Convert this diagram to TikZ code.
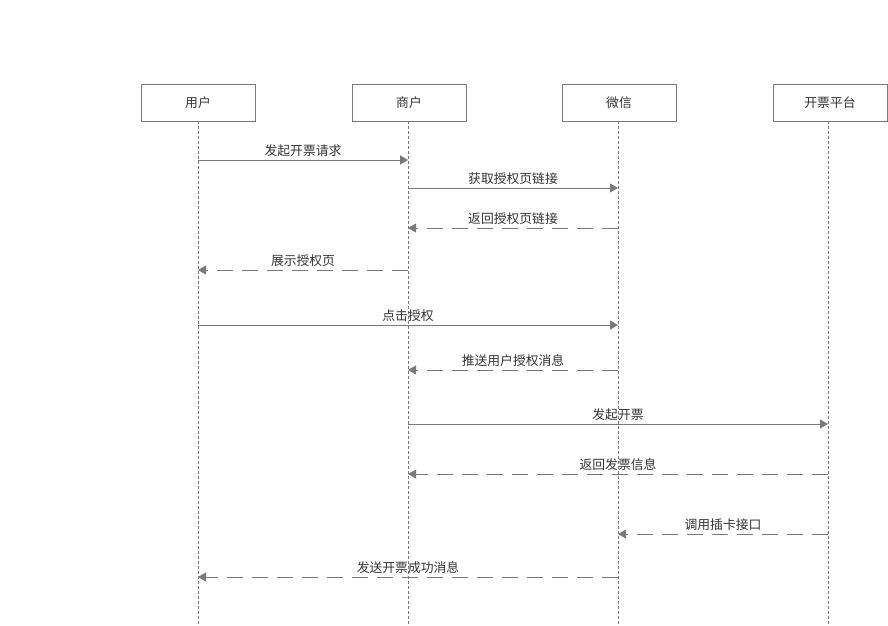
\documentclass[tikz,border=0pt]{standalone}
\usepackage{fontspec}
\setmainfont{Noto Sans CJK SC}
\usetikzlibrary{arrows.meta}
\definecolor{lc}{HTML}{7A7A7A}
\definecolor{tc}{HTML}{333333}
\tikzset{
  actor/.style={draw=lc, line width=0.8pt, minimum width=114pt, minimum height=37pt, inner sep=0pt, font=\fontsize{12.8}{14}\selectfont, text=tc},
  life/.style={draw=lc, line width=0.6pt, dash pattern=on 3pt off 2pt},
  msg/.style={draw=lc, line width=1pt, -{Triangle[length=8pt,width=9pt]}},
  ret/.style={msg, dash pattern=on 16pt off 9pt},
  lbl/.style={inner sep=1pt, anchor=center, yshift=9.5pt, font=\fontsize{12.8}{14}\selectfont, text=tc}
}
\begin{document}
\begin{tikzpicture}[x=1pt,y=-1pt]
\useasboundingbox (0,0) rectangle (888,625);
\node[actor] (u) at (198,102.5) {用户};
\node[actor] (m) at (409,102.5) {商户};
\node[actor] (w) at (619,102.5) {微信};
\node[actor] (p) at (830,102.5) {开票平台};
\coordinate (ue) at (198,625);
\coordinate (me) at (408,625);
\coordinate (we) at (618,625);
\coordinate (pe) at (828,625);
\draw[life] (198,121) -- (ue);
\draw[life] (408,121) -- (me);
\draw[life] (618,121) -- (we);
\draw[life] (828,121) -- (pe);
% message endpoints
\foreach \n/\x in {u/198,m/408,w/618,p/828}{
  \foreach \y in {160,188,228,270,325,370,424,474,534,577}{
    \coordinate (\n\y) at (\x,\y);
  }
}
\draw[msg] (u160) -- node[lbl] {发起开票请求} (m160);
\draw[msg] (m188) -- node[lbl] {获取授权页链接} (w188);
\draw[ret] (w228) -- node[lbl] {返回授权页链接} (m228);
\draw[ret] (m270) -- node[lbl] {展示授权页} (u270);
\draw[msg] (u325) -- node[lbl] {点击授权} (w325);
\draw[ret] (w370) -- node[lbl] {推送用户授权消息} (m370);
\draw[msg] (m424) -- node[lbl] {发起开票} (p424);
\draw[ret] (p474) -- node[lbl] {返回发票信息} (m474);
\draw[ret] (p534) -- node[lbl] {调用插卡接口} (w534);
\draw[ret] (w577) -- node[lbl] {发送开票成功消息} (u577);
\end{tikzpicture}
\end{document}
